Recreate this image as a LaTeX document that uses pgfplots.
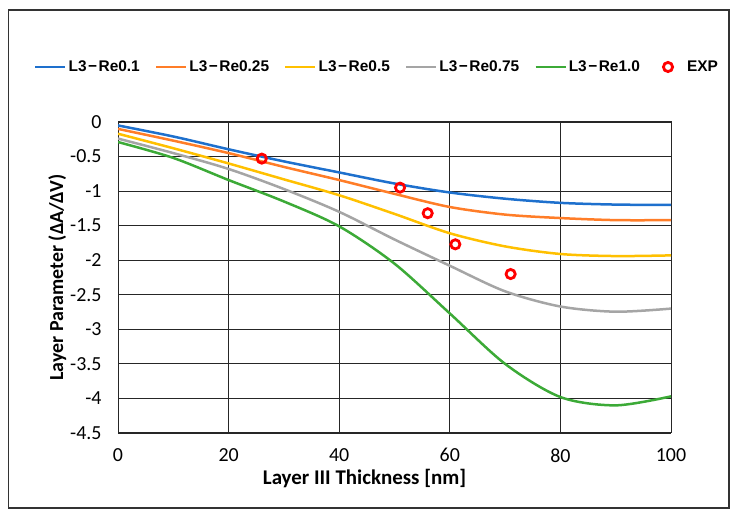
\documentclass[border=0pt]{standalone}
\usepackage{pgfplots}
\pgfplotsset{compat=1.18}
\usepackage{fontspec}
\setmainfont{Carlito}
\newfontfamily\legfont{Liberation Sans}
\definecolor{cblue}{RGB}{30,112,205}
\definecolor{corange}{RGB}{255,125,40}
\definecolor{cyellow}{RGB}{255,192,0}
\definecolor{cgray}{RGB}{165,165,165}
\definecolor{cgreen}{RGB}{60,170,55}
\pgfplotsset{
  linelegend/.style={legend image code/.code={\draw[##1] (0bp,0bp) -- (30bp,0bp);}},
  marklegend/.style={legend image code/.code={\path[draw=none,fill=none] (0bp,-1bp) rectangle (30bp,1bp); \node[draw=red, fill=none, circle, line width=2.8bp, minimum size=9.2bp, inner sep=0pt] at (13bp,0bp) {};}},
}
\newcommand{\mn}{{\kern1.5bp}−{\kern1.5bp}}
\begin{document}
\begin{tikzpicture}[x=1bp,y=1bp]
\path (0,0) rectangle (738,521);
\draw[line width=1.8bp, draw=black!80] (8.5,13) rectangle (729,511);
\begin{axis}[
  at={(118bp,88bp)}, anchor=south west,
  width=553bp, height=311bp, scale only axis,
  xmin=0, xmax=100, ymin=-4.5, ymax=0,
  xtick={0,20,...,100},
  ytick={-4.5,-4,...,0},
  yticklabels={-4.5,-4,-3.5,-3,-2.5,-2,-1.5,-1,-0.5,0},
  grid=major,
  major grid style={black!85, line width=0.8bp},
  axis line style={black!85, line width=1bp},
  tick style={draw=none},
  ticklabel style={font=\fontsize{20}{24}\selectfont},
  /pgf/number format/assume math mode=true,
  xticklabel style={yshift=-12bp},
  yticklabel style={xshift=-13bp},
  xlabel={\bfseries Layer III Thickness [nm]},
  ylabel={\bfseries Layer Parameter (ΔA/ΔV)},
  xlabel style={font=\fontsize{21}{24}\selectfont, yshift=0bp, xshift=-30bp},
  ylabel style={font=\fontsize{20}{24}\selectfont, yshift=-3bp},
  legend columns=6,
  legend style={draw=none, fill=none, at={(0.5,1.0)}, anchor=center, xshift=-17.5bp, yshift=55bp,
    font=\fontsize{15.5}{18}\selectfont\legfont\bfseries,
    /tikz/every even column/.append style={column sep=13bp},
    /tikz/every odd column/.append style={column sep=0bp},
    nodes={inner xsep=2bp}},
  linelegend,
  every axis plot/.append style={line width=2.5bp},
]
\addplot[cblue, smooth] coordinates {(0,-0.05) (10,-0.21) (20,-0.395) (30,-0.57) (40,-0.73) (50,-0.89) (60,-1.02) (70,-1.11) (80,-1.17) (90,-1.195) (100,-1.2)};
\addlegendentry{L3\mn Re0.1}
\addplot[corange, smooth] coordinates {(0,-0.10) (10,-0.27) (20,-0.45) (30,-0.65) (40,-0.84) (50,-1.04) (60,-1.23) (70,-1.34) (80,-1.39) (90,-1.42) (100,-1.42)};
\addlegendentry{L3\mn Re0.25}
\addplot[cyellow, smooth] coordinates {(0,-0.17) (10,-0.38) (20,-0.60) (30,-0.83) (40,-1.06) (50,-1.33) (60,-1.61) (70,-1.80) (80,-1.91) (90,-1.94) (100,-1.93)};
\addlegendentry{L3\mn Re0.5}
\addplot[cgray, smooth] coordinates {(0,-0.24) (10,-0.45) (20,-0.68) (30,-0.97) (40,-1.30) (50,-1.70) (60,-2.08) (70,-2.45) (80,-2.67) (90,-2.745) (100,-2.70)};
\addlegendentry{L3\mn Re0.75}
\addplot[cgreen, smooth] coordinates {(0,-0.29) (10,-0.52) (20,-0.84) (30,-1.15) (40,-1.51) (50,-2.05) (60,-2.77) (70,-3.50) (80,-3.98) (90,-4.10) (100,-3.97)};
\addlegendentry{L3\mn Re1.0}
\addplot[only marks, mark=o, mark size=4.6bp, red, line width=2.8bp, marklegend]
  coordinates {(26,-0.53) (51,-0.95) (56,-1.32) (61,-1.77) (71,-2.2)};
\addlegendentry{EXP}
\end{axis}
\end{tikzpicture}
\end{document}
